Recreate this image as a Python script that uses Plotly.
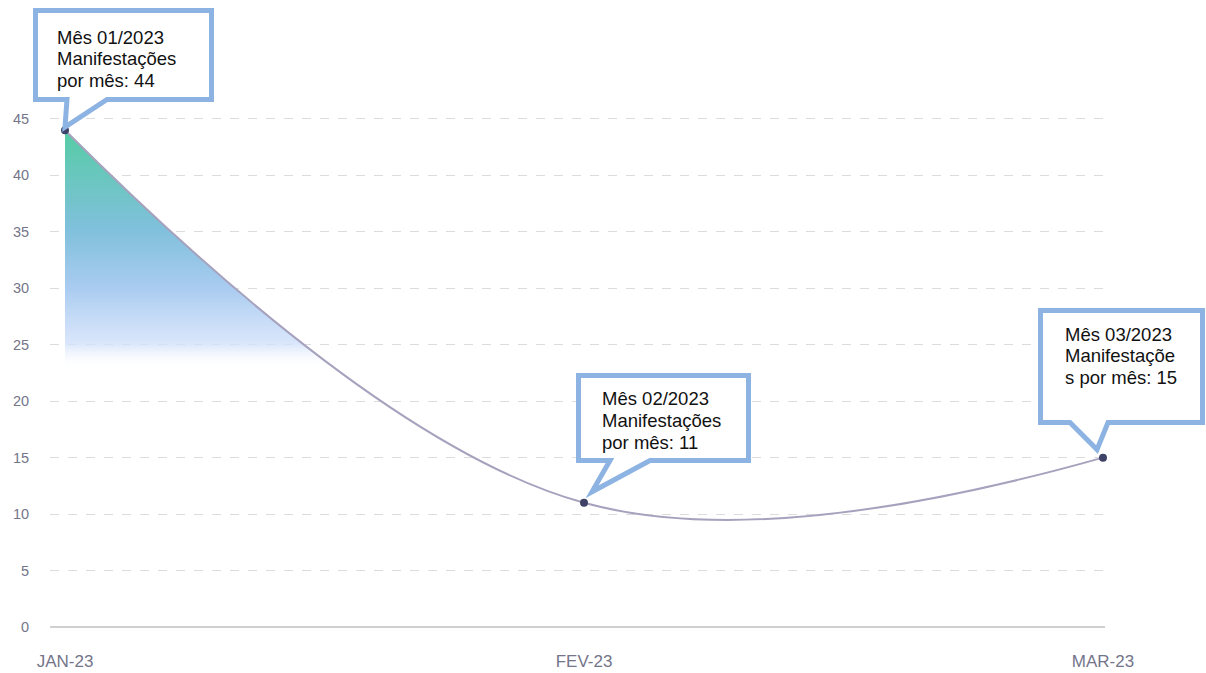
import plotly.graph_objects as go

# Monthly counts
months = ["JAN-23", "FEV-23", "MAR-23"]
counts = [44, 11, 15]
callout_lines = [
    ["Mês 01/2023", "Manifestações", "por mês: 44"],
    ["Mês 02/2023", "Manifestações", "por mês: 11"],
    ["Mês 03/2023", "Manifestaçõe", "s por mês: 15"],
]

W_PX, H_PX = 1206, 673
L, R, T, B = 50, 1105, 85, 627
PW, PH = R - L, B - T
step = 519.0
x_range = [-15 / step, 2 + 2 / step]
y_range = [0, 48]

xs = list(range(len(months)))


def px_x(v):
    return L + (v - x_range[0]) / (x_range[1] - x_range[0]) * PW


def px_y(v):
    return B - (v - y_range[0]) / (y_range[1] - y_range[0]) * PH


def paper_x(px):
    return (px - L) / PW


def paper_y(py):
    return (B - py) / PH


fig = go.Figure()

fig.add_trace(go.Scatter(
    x=xs, y=counts,
    mode="lines+markers",
    line=dict(shape="spline", smoothing=1.1, color="#a6a2be", width=2),
    marker=dict(color="#3d4266", size=8),
    fill="tozeroy",
    fillgradient=dict(
        type="vertical",
        start=0, stop=44,
        colorscale=[
            [0.0, "rgba(255,255,255,0)"],
            [0.52, "rgba(255,255,255,0)"],
            [0.57, "rgba(208,224,250,0.8)"],
            [0.68, "rgba(170,204,240,1)"],
            [0.80, "rgba(128,192,220,1)"],
            [1.0, "rgba(86,204,164,1)"],
        ],
    ),
    cliponaxis=False,
    hoverinfo="skip",
    showlegend=False,
))

# Speech-bubble callouts: box rectangle (px), tail base (px), tail tip offset from the point,
# text left edge and first line centre (px)
callouts = [
    dict(box=(35.5, 10.5, 211.5, 99.5), base=(67, 107), tip=(0, -3), text_at=(55, 37)),
    dict(box=(578.5, 375.5, 748.5, 460.5), base=(610, 650), tip=(8, -11), text_at=(600, 399)),
    dict(box=(1040.5, 310.5, 1202.5, 422.5), base=(1070, 1108), tip=(-6, -8), text_at=(1063, 334)),
]
line_gap = 21.5

shapes = []
annotations = []
for i, c in enumerate(callouts):
    x0, y0, x1, y1 = c["box"]
    b0, b1 = c["base"]
    tx = px_x(xs[i]) + c["tip"][0]
    ty = px_y(counts[i]) + c["tip"][1]
    pts = [(x0, y0), (x1, y0), (x1, y1), (b1, y1), (tx, ty), (b0, y1), (x0, y1)]
    path = "M " + " L ".join(f"{paper_x(a):.5f},{paper_y(b):.5f}" for a, b in pts) + " Z"
    shapes.append(dict(
        type="path", path=path, xref="paper", yref="paper",
        line=dict(color="#8db3e2", width=5), fillcolor="white", layer="above",
    ))
    for k, txt in enumerate(callout_lines[i]):
        annotations.append(dict(
            x=paper_x(c["text_at"][0]), y=paper_y(c["text_at"][1] + k * line_gap),
            xref="paper", yref="paper", xanchor="left", yanchor="middle",
            text=txt, showarrow=False, align="left",
            font=dict(family="Liberation Sans, Arial", size=18.5, color="#111111"),
        ))

fig.update_layout(
    width=W_PX, height=H_PX,
    margin=dict(l=L, r=W_PX - R, t=T, b=H_PX - B),
    paper_bgcolor="white", plot_bgcolor="white",
    shapes=shapes, annotations=annotations,
    xaxis=dict(
        range=x_range, tickvals=xs, ticktext=months, automargin=False,
        showgrid=False, zeroline=False, showline=False,
        ticks="outside", ticklen=19, tickcolor="rgba(0,0,0,0)",
        tickfont=dict(family="Liberation Sans, Arial", size=17, color="#74758a"),
    ),
    yaxis=dict(
        range=y_range, dtick=5, tick0=0, automargin=False,
        showgrid=True, gridcolor="#dcdcdc", griddash="dash", gridwidth=1,
        zeroline=True, zerolinecolor="#d0d0d0", zerolinewidth=1.5,
        ticks="outside", ticklen=17, tickcolor="rgba(0,0,0,0)",
        tickfont=dict(family="Liberation Sans, Arial", size=14.5, color="#74758a"),
    ),
)

fig.write_html("out.html")
